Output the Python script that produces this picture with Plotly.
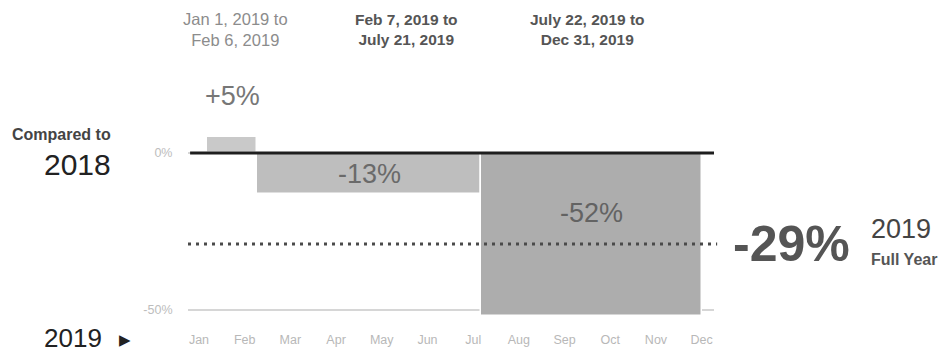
import pandas as pd
import plotly.graph_objects as go

# Period-over-period change vs. 2018, by date range within 2019
period_start = ["2019-01-01", "2019-02-07", "2019-07-22"]
period_end = ["2019-02-06", "2019-07-21", "2019-12-31"]
change_pct = [5, -13, -52]
full_year_pct = -29
months = ["Jan", "Feb", "Mar", "Apr", "May", "Jun",
          "Jul", "Aug", "Sep", "Oct", "Nov", "Dec"]
y_ticks = [0, -50]
y_tick_labels = ["0%", "-50%"]

FONT = "Liberation Sans, Arial, Helvetica, sans-serif"
bar_colors = ["#c9c9c9", "#bebebe", "#adadad"]

W, H = 945, 353
M = dict(l=188, r=231, t=125, b=33)
PW = W - M["l"] - M["r"]
PH = H - M["t"] - M["b"]


def px(x):
    """Horizontal pixel -> paper fraction."""
    return (x - M["l"]) / PW


def py(y):
    """Vertical pixel (from top) -> paper fraction."""
    return (H - M["b"] - y) / PH


year_start = pd.Timestamp("2019-01-01")
start_day = [(pd.Timestamp(s) - year_start).days for s in period_start]
end_day = [(pd.Timestamp(e) - year_start).days + 1 for e in period_end]
centers = [(a + b) / 2 for a, b in zip(start_day, end_day)]
widths = [b - a for a, b in zip(start_day, end_day)]

fig = go.Figure()
fig.add_trace(go.Bar(
    x=centers, y=change_pct, width=widths,
    marker=dict(color=bar_colors, line=dict(color="white", width=1.5)),
    hoverinfo="skip", showlegend=False, xaxis="x", yaxis="y",
))
# month tick axis (evenly spaced labels)
fig.add_trace(go.Scatter(
    x=list(range(len(months))), y=[None] * len(months),
    xaxis="x2", yaxis="y", mode="markers", showlegend=False, hoverinfo="skip",
))

fig.update_layout(
    width=W, height=H,
    margin=M,
    paper_bgcolor="white", plot_bgcolor="white",
    font=dict(family=FONT),
    bargap=0,
    xaxis=dict(range=[-14.1, 374], showticklabels=False, showgrid=False,
               zeroline=False, showline=False, fixedrange=True,
               automargin=False),
    xaxis2=dict(overlaying="x", anchor="y", side="bottom", automargin=False,
                range=[-0.24, 11.27], tickvals=list(range(len(months))),
                ticktext=months, showgrid=False, zeroline=False, showline=False,
                ticks="outside", ticklen=8, tickcolor="rgba(0,0,0,0)",
                tickfont=dict(size=12.5, color="#b8b8b8", family=FONT)),
    yaxis=dict(range=[-53.2, 8.9], tickvals=y_ticks, ticktext=y_tick_labels,
               showgrid=True, gridcolor="#d6d6d6", gridwidth=1.5,
               zeroline=False, showline=False, automargin=False,
               ticks="outside", ticklen=12, tickcolor="rgba(0,0,0,0)",
               tickfont=dict(size=12.5, color="#bdbdbd", family=FONT)),
)

# baseline at 0% and full-year average line
fig.add_shape(type="line", xref="x domain", yref="y", x0=0.004, x1=1.0,
              y0=0, y1=0, line=dict(color="#1e1e1e", width=3), layer="above")
fig.add_shape(type="line", xref="x domain", yref="y", x0=0.0, x1=1.006,
              y0=full_year_pct, y1=full_year_pct,
              line=dict(color="#4a4a4a", width=3, dash="3px,5px"), layer="above")

# value labels for each period
label_colors = ["#777777", "#6a6a6a", "#636363"]
label_yshift = [24, -21, -60]
for c, v, col, ys in zip(centers, change_pct, label_colors, label_yshift):
    fig.add_annotation(
        x=c, y=v if v > 0 else 0, xref="x", yref="y",
        text=f"{v:+d}%" if v > 0 else f"-{abs(v)}%",
        showarrow=False, yanchor="bottom" if v > 0 else "middle", yshift=ys,
        font=dict(size=27, color=col, family=FONT),
    )

# period headers
headers = [
    ("Jan 1, 2019 to<br>Feb 6, 2019", 235, "#8c8c8c", 16.5),
    ("<b>Feb 7, 2019 to<br>July 21, 2019</b>", 406, "#555555", 15.5),
    ("<b>July 22, 2019 to<br>Dec 31, 2019</b>", 587, "#555555", 15.5),
]
for txt, hx, col, fs in headers:
    fig.add_annotation(
        x=px(hx), y=py(29), xref="paper", yref="paper",
        text=txt, showarrow=False, align="center",
        xanchor="center", yanchor="middle",
        font=dict(size=fs, color=col, family=FONT),
    )

# left side labels
fig.add_annotation(x=px(113), y=py(134), xref="paper", yref="paper",
                   text="<b>Compared to</b>", showarrow=False, xanchor="right",
                   yanchor="middle", font=dict(size=16, color="#444444", family=FONT))
fig.add_annotation(x=px(113), y=py(164), xref="paper", yref="paper",
                   text="2018", showarrow=False, xanchor="right",
                   yanchor="middle", font=dict(size=30, color="#222222", family=FONT))
fig.add_annotation(x=px(104), y=py(338), xref="paper", yref="paper",
                   text="2019", showarrow=False, xanchor="right",
                   yanchor="middle", font=dict(size=26, color="#222222", family=FONT))
fig.add_annotation(x=px(125), y=py(340), xref="paper", yref="paper",
                   text="\u25B6", showarrow=False, xanchor="center",
                   yanchor="middle", font=dict(size=15, color="#222222",
                                               family="DejaVu Sans"))

# full-year summary on the right
fig.add_annotation(x=px(731), y=full_year_pct, xref="paper", yref="y",
                   text=f"<b>-{abs(full_year_pct)}%</b>", showarrow=False,
                   xanchor="left", yanchor="middle",
                   font=dict(size=50, color="#555555", family=FONT))
fig.add_annotation(x=px(869), y=full_year_pct, xref="paper", yref="y",
                   text="2019", showarrow=False, xanchor="left",
                   yanchor="middle", yshift=15,
                   font=dict(size=27, color="#444444", family=FONT))
fig.add_annotation(x=px(869), y=full_year_pct, xref="paper", yref="y",
                   text="<b>Full Year</b>", showarrow=False, xanchor="left",
                   yanchor="middle", yshift=-15,
                   font=dict(size=16, color="#555555", family=FONT))

fig.write_html("out.html", config={"displayModeBar": False})
